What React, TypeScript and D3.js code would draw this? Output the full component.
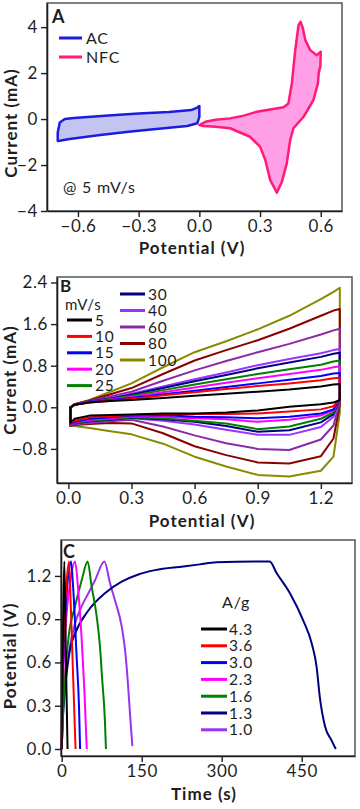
import React, { useEffect, useRef } from 'react';
import * as d3 from 'd3';

const FONT = 'Lato, "Open Sans", sans-serif';
const INK = '#1e1e1e';

// ---- Panel A: CV of each electrode at 5 mV/s, [potential (V), current (mA)]
const acLoop = [
  [-0.70, -0.95], [-0.70, -0.6], [-0.69, -0.15], [-0.665, 0.0], [-0.62, 0.05], [-0.45, 0.15],
  [-0.3, 0.24], [-0.15, 0.31], [-0.04, 0.39], [-0.01, 0.5], [0.0, 0.57], [0.0, 0.1],
  [-0.01, -0.18], [-0.06, -0.3], [-0.2, -0.42], [-0.35, -0.55], [-0.5, -0.7], [-0.65, -0.88], [-0.69, -0.94],
];
const nfcLoop = [
  [0.0, -0.26], [0.03, -0.12], [0.08, -0.03], [0.152, 0.03], [0.22, 0.15], [0.284, 0.32], [0.35, 0.42],
  [0.416, 0.51], [0.44, 0.68], [0.457, 1.55], [0.474, 3.0], [0.49, 4.09], [0.5, 4.23], [0.51, 4.0],
  [0.524, 3.43], [0.548, 3.0], [0.58, 2.78], [0.6, 2.93], [0.598, 2.3], [0.59, 2.0], [0.586, 1.55],
  [0.564, 0.83], [0.515, 0.1], [0.465, -0.4], [0.449, -0.91], [0.432, -1.93], [0.408, -2.73],
  [0.383, -3.2], [0.35, -2.65], [0.326, -1.78], [0.3, -1.2], [0.25, -0.77], [0.152, -0.4], [0.08, -0.33], [0.02, -0.3],
];
const aLegend = ['AC', 'NFC'];
const aXTicks = [-0.6, -0.3, 0.0, 0.3, 0.6];
const aYTicks = [-4, -2, 0, 2, 4];

// ---- Panel B: CV of the device at several scan rates
const scanRates = ['5', '10', '15', '20', '25', '30', '40', '60', '80', '100'];
const scanColors = ['#000000', '#ff0000', '#0000ff', '#ff00ff', '#008000', '#000080', '#9933ff', '#8a2aa8', '#8b0000', '#8a8a00'];
const cvPotential = [0.01, 0.03, 0.1, 0.2, 0.3, 0.45, 0.6, 0.75, 0.9, 1.05, 1.2, 1.26, 1.29];
const upper5 = [0.0, 0.05, 0.09, 0.12, 0.14, 0.18, 0.22, 0.26, 0.3, 0.34, 0.4, 0.44, 0.45];
const upper10 = [0.0, 0.05, 0.09, 0.13, 0.16, 0.23, 0.29, 0.35, 0.41, 0.46, 0.52, 0.56, 0.57];
const upper15 = [0.0, 0.05, 0.1, 0.14, 0.18, 0.25, 0.32, 0.39, 0.46, 0.53, 0.6, 0.65, 0.66];
const upper20 = [0.0, 0.05, 0.1, 0.15, 0.2, 0.29, 0.38, 0.47, 0.56, 0.64, 0.72, 0.77, 0.79];
const upper25 = [0.0, 0.05, 0.1, 0.16, 0.22, 0.33, 0.44, 0.54, 0.64, 0.73, 0.82, 0.88, 0.9];
const upper30 = [0.0, 0.05, 0.11, 0.17, 0.24, 0.37, 0.5, 0.62, 0.75, 0.86, 0.97, 1.03, 1.05];
const upper40 = [0.0, 0.05, 0.11, 0.18, 0.26, 0.4, 0.54, 0.67, 0.81, 0.93, 1.04, 1.1, 1.12];
const upper60 = [0.0, 0.06, 0.12, 0.21, 0.3, 0.51, 0.71, 0.89, 1.06, 1.22, 1.4, 1.48, 1.51];
const upper80 = [0.0, 0.06, 0.13, 0.25, 0.37, 0.64, 0.9, 1.1, 1.29, 1.51, 1.76, 1.86, 1.89];
const upper100 = [0.0, 0.06, 0.14, 0.3, 0.46, 0.77, 1.06, 1.27, 1.5, 1.76, 2.08, 2.22, 2.3];
const lower5 = [-0.3, -0.22, -0.16, -0.15, -0.14, -0.12, -0.12, -0.1, -0.06, 0.01, 0.06, 0.09, 0.14];
const lower10 = [-0.32, -0.26, -0.19, -0.17, -0.15, -0.13, -0.13, -0.13, -0.12, -0.08, -0.04, 0.02, 0.15];
const lower15 = [-0.33, -0.28, -0.22, -0.19, -0.16, -0.15, -0.18, -0.19, -0.21, -0.18, -0.12, -0.04, 0.15];
const lower20 = [-0.34, -0.29, -0.24, -0.21, -0.17, -0.18, -0.21, -0.23, -0.28, -0.24, -0.16, -0.06, 0.15];
const lower25 = [-0.35, -0.3, -0.26, -0.23, -0.19, -0.21, -0.26, -0.31, -0.42, -0.37, -0.22, -0.1, 0.15];
const lower30 = [-0.35, -0.31, -0.27, -0.24, -0.2, -0.23, -0.28, -0.36, -0.47, -0.44, -0.29, -0.13, 0.15];
const lower40 = [-0.36, -0.32, -0.28, -0.25, -0.21, -0.26, -0.33, -0.43, -0.53, -0.53, -0.38, -0.18, 0.15];
const lower60 = [-0.36, -0.33, -0.3, -0.27, -0.24, -0.37, -0.54, -0.69, -0.8, -0.82, -0.62, -0.35, 0.1];
const lower80 = [-0.36, -0.34, -0.32, -0.3, -0.31, -0.5, -0.75, -0.92, -1.06, -1.08, -0.94, -0.6, 0.05];
const lower100 = [-0.34, -0.36, -0.4, -0.46, -0.52, -0.7, -0.95, -1.14, -1.3, -1.33, -1.22, -0.95, -0.1];
const upperB = [upper5, upper10, upper15, upper20, upper25, upper30, upper40, upper60, upper80, upper100];
const lowerB = [lower5, lower10, lower15, lower20, lower25, lower30, lower40, lower60, lower80, lower100];
const bXTicks = [0.0, 0.3, 0.6, 0.9, 1.2];
const bYTicks = [-0.8, 0.0, 0.8, 1.6, 2.4];

// ---- Panel C: charge/discharge, [time (s), potential (V)]
const densities = ['4.3', '3.6', '3.0', '2.3', '1.6', '1.3', '1.0'];
const densityColors = ['#000000', '#ff0000', '#0000ff', '#ff00ff', '#008000', '#000080', '#9933ee'];
const gcd43 = [[0, 0], [1.5, 0.6], [3, 1.0], [5, 1.3], [8, 0.6], [11, 0]];
const gcd36 = [[0, 0], [2, 0.55], [5, 0.9], [9, 1.15], [13.7, 1.3], [17, 1.0], [21, 0.55], [26, 0]];
const gcd30 = [[0, 0], [2, 0.5], [6, 0.9], [11, 1.15], [17.5, 1.3], [21.8, 1.1], [28, 0.64], [32.5, 0.29], [34.5, 0]];
const gcd23 = [[0, 0], [3, 0.5], [8, 0.88], [15, 1.13], [25, 1.3], [31, 1.1], [37.5, 0.76], [42.5, 0.41], [47, 0]];
const gcd16 = [[0, 0], [3, 0.29], [12.4, 0.76], [25, 0.99], [37.5, 1.17], [48.7, 1.3], [56, 1.13], [65.6, 0.92],
  [71.8, 0.71], [76, 0.48], [81, 0.2], [83, 0]];
const gcd13 = [[0, 0], [2, 0.2], [6.2, 0.41], [15.6, 0.69], [25, 0.8], [50, 0.96], [81, 1.08], [112.5, 1.16],
  [143.7, 1.21], [175, 1.24], [228, 1.265], [259, 1.28], [290, 1.295], [390, 1.3], [403, 1.22], [428, 1.08],
  [453, 0.89], [469, 0.73], [478, 0.57], [484, 0.36], [494, 0.155], [506, 0.06], [514, 0]];
const gcd10 = [[0, 0], [3, 0.3], [12.4, 0.64], [25, 0.87], [37.5, 0.99], [50, 1.08], [62.5, 1.17], [80, 1.3],
  [90.6, 1.15], [100, 1.03], [112.5, 0.85], [118.7, 0.69], [123.7, 0.48], [128, 0.25], [132.5, 0.02]];
const gcdCurves = [gcd43, gcd36, gcd30, gcd23, gcd16, gcd13, gcd10];
const cXTicks = [0, 150, 300, 450];
const cYTicks = [0.0, 0.3, 0.6, 0.9, 1.2];

const App = () => {
  const svgRef = useRef(null);

  useEffect(() => {
    const svg = d3.select(svgRef.current);
    svg.selectAll('*').remove();

    const frame = (box) => {
      svg.append('rect')
        .attr('x', box.left).attr('y', box.top)
        .attr('width', box.right - box.left).attr('height', box.bottom - box.top)
        .attr('fill', 'none').attr('stroke', '#555').attr('stroke-width', 1.5);
    };

    const axes = (box, x, y, xTicks, yTicks, xFmt, yFmt) => {
      const gx = svg.append('g')
        .attr('transform', `translate(0,${box.bottom})`)
        .call(d3.axisBottom(x).tickValues(xTicks).tickFormat(xFmt).tickSize(6).tickSizeOuter(0).tickPadding(3));
      const gy = svg.append('g')
        .attr('transform', `translate(${box.left},0)`)
        .call(d3.axisLeft(y).tickValues(yTicks).tickFormat(yFmt).tickSize(6).tickSizeOuter(0).tickPadding(3));
      [gx, gy].forEach(g => {
        g.select('.domain').attr('stroke', INK).attr('stroke-width', 1.6);
        g.selectAll('.tick line').attr('stroke', INK).attr('stroke-width', 1.4);
        g.selectAll('text')
          .attr('fill', INK)
          .style('font-family', FONT)
          .style('font-size', '17px')
          .style('letter-spacing', '0.6px');
      });
    };

    const title = (text, x, y, rotate) => {
      svg.append('text')
        .attr('transform', rotate ? `translate(${x},${y}) rotate(-90)` : `translate(${x},${y})`)
        .attr('text-anchor', 'middle')
        .attr('fill', INK)
        .style('font-family', FONT)
        .style('font-size', '17px')
        .style('font-weight', 'bold')
        .style('letter-spacing', '1px')
        .text(text);
    };

    const label = (text, x, y, opts = {}) => {
      svg.append('text')
        .attr('x', x).attr('y', y)
        .attr('text-anchor', opts.anchor || 'start')
        .attr('fill', INK)
        .style('font-family', FONT)
        .style('font-size', opts.size || '16px')
        .style('font-weight', opts.bold ? 'bold' : 'normal')
        .style('letter-spacing', opts.bold ? '0px' : '0.8px')
        .text(text);
    };

    const fmt1 = d3.format('.1f');

    // ----- Panel A
    const boxA = { left: 47, right: 342, top: 3, bottom: 211 };
    const xA = d3.scaleLinear().domain([-0.753, 0.705]).range([boxA.left, boxA.right]);
    const yA = d3.scaleLinear().domain([-4, 5.05]).range([boxA.bottom, boxA.top]);
    frame(boxA);
    const loopA = d3.line().x(d => xA(d[0])).y(d => yA(d[1])).curve(d3.curveLinearClosed);
    svg.append('path').attr('d', loopA(acLoop))
      .attr('fill', '#c4c4f2').attr('stroke', '#1c1ce0').attr('stroke-width', 2.5).attr('stroke-linejoin', 'round');
    svg.append('path').attr('d', loopA(nfcLoop))
      .attr('fill', '#ff9fe6').attr('stroke', '#ff1a78').attr('stroke-width', 2.5).attr('stroke-linejoin', 'round');
    axes(boxA, xA, yA, aXTicks, aYTicks, fmt1, d3.format('d'));
    title('Current (mA)', 17, 123, true);
    title('Potential (V)', 192, 254, false);
    label('A', 52, 23, { bold: true, size: '18px' });
    const aColors = ['#1c1ce0', '#ff1a78'];
    aLegend.forEach((name, i) => {
      const ly = 38 + i * 19;
      svg.append('line').attr('x1', 59).attr('x2', 82).attr('y1', ly).attr('y2', ly)
        .attr('stroke', aColors[i]).attr('stroke-width', 3);
      label(name, 86, ly + 5.5);
    });
    label('@ 5 mV/s', 63, 193);

    // ----- Panel B
    const boxB = { left: 57, right: 352, top: 277, bottom: 483 };
    const xB = d3.scaleLinear().domain([-0.054, 1.348]).range([boxB.left, boxB.right]);
    const yB = d3.scaleLinear().domain([-1.456, 2.506]).range([boxB.bottom, boxB.top]);
    frame(boxB);
    const lineB = d3.line().x(d => xB(d[0])).y(d => yB(d[1])).curve(d3.curveLinearClosed);
    for (let i = scanRates.length - 1; i >= 0; i--) {
      const up = cvPotential.map((v, k) => [v, upperB[i][k]]);
      const down = cvPotential.map((v, k) => [v, lowerB[i][k]]).reverse();
      svg.append('path').attr('d', lineB(up.concat(down)))
        .attr('fill', 'none').attr('stroke', scanColors[i]).attr('stroke-width', 2).attr('stroke-linejoin', 'round');
    }
    axes(boxB, xB, yB, bXTicks, bYTicks, fmt1, fmt1);
    title('Current (mA)', 16, 380, true);
    title('Potential (V)', 202, 527, false);
    label('B', 60, 292, { bold: true, size: '17px' });
    label('mV/s', 65, 310, { size: '15px' });
    scanRates.forEach((name, i) => {
      const col = i < 5 ? 0 : 1;
      const row = i % 5;
      const ly = col === 0 ? 320 + row * 16.4 : 294 + row * 16.5;
      const lx = col === 0 ? 67 : 120;
      svg.append('line').attr('x1', lx).attr('x2', lx + 25).attr('y1', ly).attr('y2', ly)
        .attr('stroke', scanColors[i]).attr('stroke-width', 3);
      label(name, lx + 28, ly + 5.5, { size: '15.5px' });
    });

    // ----- Panel C
    const boxC = { left: 61, right: 355, top: 540, bottom: 756 };
    const xC = d3.scaleLinear().domain([-1.3, 550]).range([boxC.left, boxC.right]);
    const yC = d3.scaleLinear().domain([-0.0485, 1.449]).range([boxC.bottom, boxC.top]);
    frame(boxC);
    const lineC = d3.line().x(d => xC(d[0])).y(d => yC(d[1])).curve(d3.curveMonotoneX);
    for (let i = gcdCurves.length - 1; i >= 0; i--) {
      svg.append('path').attr('d', lineC(gcdCurves[i]))
        .attr('fill', 'none').attr('stroke', densityColors[i]).attr('stroke-width', 2);
    }
    axes(boxC, xC, yC, cXTicks, cYTicks, d3.format('d'), fmt1);
    title('Potential (V)', 16, 656, true);
    title('Time (s)', 204, 800, false);
    label('C', 63, 558, { bold: true, size: '18px' });
    label('A/g', 222, 608);
    densities.forEach((name, i) => {
      const ly = 629 + i * 16.8;
      svg.append('line').attr('x1', 201).attr('x2', 227).attr('y1', ly).attr('y2', ly)
        .attr('stroke', densityColors[i]).attr('stroke-width', 3);
      label(name, 229, ly + 5.5, { size: '15.5px' });
    });
  }, []);

  return (
    <svg ref={svgRef} width={360} height={809}
      style={{ position: 'absolute', left: 0, top: 0, background: '#fff' }} />
  );
};

export default App;
